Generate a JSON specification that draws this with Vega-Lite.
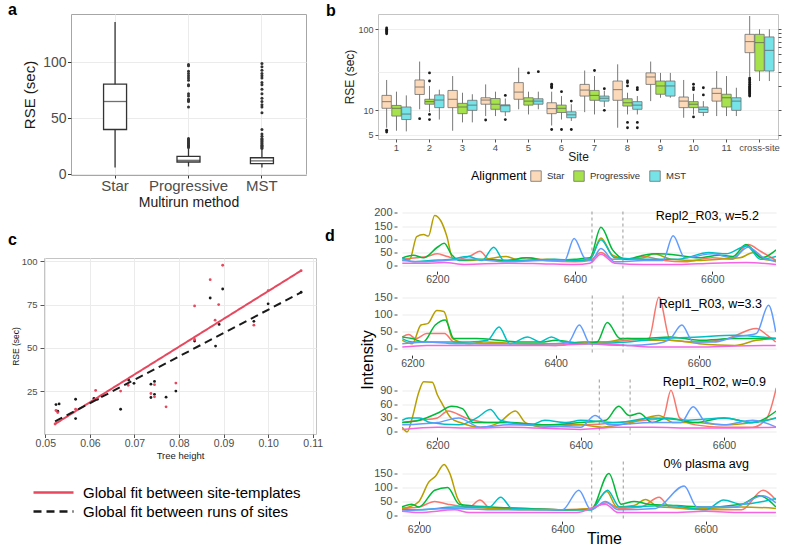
{
"$schema": "https://vega.github.io/schema/vega-lite/v6.json",
"background": "white",
"padding": {"left": 0, "top": 1, "right": 0, "bottom": 0},
"config": {
  "font": "Liberation Sans",
  "axis": {"domain": false, "labelColor": "#4D4D4D", "tickColor": "#333333", "titleColor": "#1A1A1A", "titleFontWeight": "normal", "gridColor": "#EBEBEB"},
  "title": {"fontSize": 16, "fontWeight": "bold", "color": "#000000", "anchor": "start", "frame": "group"}
},
"datasets": {
  "boxA": [
    {"m":"Star","lo":6,"q1":40,"med":65,"q3":80.5,"hi":136},
    {"m":"Progressive","lo":7,"q1":11,"med":12.5,"q3":16,"hi":23},
    {"m":"MST","lo":6,"q1":9.5,"med":12,"q3":14.8,"hi":22}
  ],
  "outA": [
    {"m":"Progressive","v":24},{"m":"Progressive","v":25},{"m":"Progressive","v":26},{"m":"Progressive","v":27},{"m":"Progressive","v":28},{"m":"Progressive","v":29},{"m":"Progressive","v":30},{"m":"Progressive","v":31},{"m":"Progressive","v":32},{"m":"Progressive","v":60},{"m":"Progressive","v":65},{"m":"Progressive","v":66},{"m":"Progressive","v":67},{"m":"Progressive","v":70},{"m":"Progressive","v":72},{"m":"Progressive","v":79},{"m":"Progressive","v":80},{"m":"Progressive","v":84},{"m":"Progressive","v":86},{"m":"Progressive","v":88},{"m":"Progressive","v":90},{"m":"Progressive","v":92},{"m":"Progressive","v":97},{"m":"Progressive","v":98},
    {"m":"MST","v":23},{"m":"MST","v":24},{"m":"MST","v":25},{"m":"MST","v":26},{"m":"MST","v":27},{"m":"MST","v":28},{"m":"MST","v":29},{"m":"MST","v":30},{"m":"MST","v":31},{"m":"MST","v":32},{"m":"MST","v":34},{"m":"MST","v":36},{"m":"MST","v":40},{"m":"MST","v":55},{"m":"MST","v":60},{"m":"MST","v":62},{"m":"MST","v":65},{"m":"MST","v":68},{"m":"MST","v":72},{"m":"MST","v":76},{"m":"MST","v":80},{"m":"MST","v":82},{"m":"MST","v":86},{"m":"MST","v":88},{"m":"MST","v":90},{"m":"MST","v":93},{"m":"MST","v":96},{"m":"MST","v":99}
  ],
  "boxB": [
    {"s":"1","a":"Star","lo":6.1,"q1":10.6,"med":12.8,"q3":15.3,"hi":23.7},
    {"s":"1","a":"Progressive","lo":5.6,"q1":8.5,"med":10.6,"q3":11.5,"hi":17},
    {"s":"1","a":"MST","lo":5.5,"q1":7.7,"med":9,"q3":11,"hi":15.3},
    {"s":"2","a":"Star","lo":10.3,"q1":15.7,"med":19.4,"q3":23.7,"hi":40},
    {"s":"2","a":"Progressive","lo":9.5,"q1":11.9,"med":12.8,"q3":13.7,"hi":20},
    {"s":"2","a":"MST","lo":7.7,"q1":10.8,"med":13.4,"q3":15.5,"hi":18},
    {"s":"3","a":"Star","lo":5.6,"q1":10.8,"med":13.7,"q3":17.6,"hi":26.5},
    {"s":"3","a":"Progressive","lo":7.1,"q1":9.1,"med":11,"q3":12.2,"hi":16.5},
    {"s":"3","a":"MST","lo":7.1,"q1":10,"med":11.6,"q3":13.3,"hi":15.8},
    {"s":"4","a":"Star","lo":8.5,"q1":11.9,"med":13.4,"q3":14.3,"hi":20.9},
    {"s":"4","a":"Progressive","lo":8.5,"q1":10.3,"med":11.9,"q3":14,"hi":17},
    {"s":"4","a":"MST","lo":8.5,"q1":9.6,"med":11.4,"q3":11.7,"hi":14},
    {"s":"5","a":"Star","lo":10.3,"q1":13.7,"med":16.8,"q3":22,"hi":33.6},
    {"s":"5","a":"Progressive","lo":8.9,"q1":11.6,"med":13,"q3":14.3,"hi":17},
    {"s":"5","a":"MST","lo":10.3,"q1":11.9,"med":13,"q3":13.9,"hi":17},
    {"s":"6","a":"Star","lo":6.5,"q1":9.1,"med":10.5,"q3":12.4,"hi":17},
    {"s":"6","a":"Progressive","lo":7.7,"q1":9.4,"med":10.6,"q3":11.6,"hi":15},
    {"s":"6","a":"MST","lo":7.4,"q1":8.1,"med":8.8,"q3":9.6,"hi":11.9},
    {"s":"7","a":"Star","lo":9.5,"q1":15,"med":17.8,"q3":20.9,"hi":31},
    {"s":"7","a":"Progressive","lo":8.9,"q1":13.3,"med":15.3,"q3":17.6,"hi":26.5},
    {"s":"7","a":"MST","lo":11,"q1":13,"med":14.1,"q3":15,"hi":17.5},
    {"s":"8","a":"Star","lo":6.1,"q1":13.3,"med":18,"q3":23,"hi":37},
    {"s":"8","a":"Progressive","lo":8.9,"q1":11.3,"med":12.4,"q3":13.9,"hi":16.5},
    {"s":"8","a":"MST","lo":8.9,"q1":10.3,"med":11.6,"q3":12.8,"hi":15},
    {"s":"9","a":"Star","lo":13,"q1":20.9,"med":25.8,"q3":29,"hi":40},
    {"s":"9","a":"Progressive","lo":14.3,"q1":15.8,"med":20,"q3":23,"hi":29},
    {"s":"9","a":"MST","lo":14.3,"q1":15,"med":20,"q3":23,"hi":29},
    {"s":"10","a":"Star","lo":8.1,"q1":10.8,"med":13,"q3":14.6,"hi":23.7},
    {"s":"10","a":"Progressive","lo":8.9,"q1":10.8,"med":11.9,"q3":12.8,"hi":16},
    {"s":"10","a":"MST","lo":8.5,"q1":9.4,"med":10.3,"q3":11,"hi":13},
    {"s":"11","a":"Star","lo":8.5,"q1":13,"med":16.2,"q3":18.7,"hi":30.5},
    {"s":"11","a":"Progressive","lo":8.5,"q1":11,"med":14.3,"q3":15.8,"hi":26.5},
    {"s":"11","a":"MST","lo":8.5,"q1":10,"med":13,"q3":14.3,"hi":19},
    {"s":"cross-site","a":"Star","lo":26,"q1":51.5,"med":70.5,"q3":86.7,"hi":146},
    {"s":"cross-site","a":"Progressive","lo":23,"q1":30.6,"med":68.5,"q3":86.7,"hi":100},
    {"s":"cross-site","a":"MST","lo":23,"q1":30.6,"med":55,"q3":80.5,"hi":100}
  ],
  "outB": [
    {"s":"1","a":"Star","v":5.4},{"s":"1","a":"Star","v":5.7},{"s":"1","a":"Star","v":88},{"s":"1","a":"Star","v":91},{"s":"1","a":"Star","v":94},{"s":"1","a":"Star","v":97},{"s":"1","a":"Star","v":100},{"s":"1","a":"Star","v":104},
    {"s":"2","a":"Star","v":7.9},{"s":"2","a":"Progressive","v":29},{"s":"2","a":"Progressive","v":23},{"s":"2","a":"Progressive","v":8.9},{"s":"2","a":"Progressive","v":7.7},
    {"s":"4","a":"Star","v":7.6},{"s":"4","a":"MST","v":15.3},{"s":"4","a":"MST","v":7.7},
    {"s":"5","a":"Progressive","v":29},{"s":"5","a":"MST","v":30},
    {"s":"6","a":"Star","v":19},{"s":"6","a":"Star","v":19.5},{"s":"6","a":"Star","v":20},{"s":"6","a":"Star","v":21},{"s":"6","a":"Star","v":5.8},{"s":"6","a":"Progressive","v":17},{"s":"6","a":"Progressive","v":5.8},{"s":"6","a":"MST","v":13},{"s":"6","a":"MST","v":5.8},
    {"s":"7","a":"Progressive","v":31},{"s":"7","a":"MST","v":18.5},{"s":"7","a":"MST","v":10},
    {"s":"8","a":"Progressive","v":20},{"s":"8","a":"Progressive","v":22},{"s":"8","a":"Progressive","v":23},{"s":"8","a":"Progressive","v":7.1},{"s":"8","a":"Progressive","v":6.1},{"s":"8","a":"MST","v":18},{"s":"8","a":"MST","v":19},{"s":"8","a":"MST","v":7.1},{"s":"8","a":"MST","v":6.1},
    {"s":"10","a":"Progressive","v":18},{"s":"10","a":"Progressive","v":19},{"s":"10","a":"Progressive","v":21},{"s":"10","a":"Progressive","v":8.3},{"s":"10","a":"MST","v":15.5},{"s":"10","a":"MST","v":19},
    {"s":"cross-site","a":"Star","v":15},{"s":"cross-site","a":"Star","v":15.5},{"s":"cross-site","a":"Star","v":16},{"s":"cross-site","a":"Star","v":16.5},{"s":"cross-site","a":"Star","v":17},{"s":"cross-site","a":"Star","v":17.5},{"s":"cross-site","a":"Star","v":18},{"s":"cross-site","a":"Star","v":18.5},{"s":"cross-site","a":"Star","v":19},{"s":"cross-site","a":"Star","v":19.5},{"s":"cross-site","a":"Star","v":20},{"s":"cross-site","a":"Star","v":21},{"s":"cross-site","a":"Star","v":22},{"s":"cross-site","a":"Star","v":23},{"s":"cross-site","a":"Star","v":24},{"s":"cross-site","a":"Star","v":25}
  ],
  "ptsC": [
    {"f":"runs","h":0.0524,"v":17.2},{"f":"runs","h":0.0531,"v":17.6},{"f":"runs","h":0.0528,"v":13.4},{"f":"runs","h":0.0568,"v":20.3},{"f":"runs","h":0.0568,"v":9.1},{"f":"runs","h":0.0609,"v":20.7},{"f":"runs","h":0.0617,"v":20.3},{"f":"runs","h":0.0669,"v":14.5},{"f":"runs","h":0.0687,"v":31.4},{"f":"runs","h":0.0699,"v":29.5},{"f":"runs","h":0.0737,"v":29},{"f":"runs","h":0.0737,"v":21.3},{"f":"runs","h":0.0745,"v":30.6},{"f":"runs","h":0.0745,"v":23.1},{"f":"runs","h":0.0771,"v":21.5},{"f":"runs","h":0.0793,"v":25},{"f":"runs","h":0.0835,"v":53.9},{"f":"runs","h":0.087,"v":78.8},{"f":"runs","h":0.0882,"v":51},{"f":"runs","h":0.089,"v":63.5},{"f":"runs","h":0.0898,"v":84},{"f":"runs","h":0.0968,"v":65.3},{"f":"runs","h":0.1,"v":75.4},{"f":"runs","h":0.1074,"v":82.1},
    {"f":"templates","h":0.0524,"v":13.8},{"f":"templates","h":0.0528,"v":12.6},{"f":"templates","h":0.0522,"v":6},{"f":"templates","h":0.0568,"v":14.5},{"f":"templates","h":0.0613,"v":25.4},{"f":"templates","h":0.0669,"v":25},{"f":"templates","h":0.0686,"v":28.3},{"f":"templates","h":0.0737,"v":23.6},{"f":"templates","h":0.0745,"v":28.7},{"f":"templates","h":0.0745,"v":21.7},{"f":"templates","h":0.0771,"v":15.9},{"f":"templates","h":0.0793,"v":29.6},{"f":"templates","h":0.0835,"v":74.2},{"f":"templates","h":0.0835,"v":54.8},{"f":"templates","h":0.087,"v":89.4},{"f":"templates","h":0.0881,"v":66},{"f":"templates","h":0.0889,"v":75},{"f":"templates","h":0.0898,"v":97.7},{"f":"templates","h":0.0968,"v":63.1},{"f":"templates","h":0.1,"v":83},{"f":"templates","h":0.1074,"v":94.6}
  ],
  "fitC": [
    {"f":"templates","h":0.0522,"v":6},{"f":"templates","h":0.1074,"v":94.6},
    {"f":"runs","h":0.0522,"v":7.5},{"f":"runs","h":0.1074,"v":82}
  ],
  "r1": [{"t":6425},{"t":6470}],
  "r2": [{"t":6451},{"t":6494}],
  "r3": [{"t":6426},{"t":6469}],
  "r4": [{"t":6441},{"t":6485}],
  "d1": [
    {"s":"A","t":6149,"v":25},{"s":"A","t":6170,"v":30},{"s":"A","t":6185,"v":35},{"s":"A","t":6200,"v":45},{"s":"A","t":6215,"v":35},{"s":"A","t":6230,"v":25},{"s":"A","t":6250,"v":40},{"s":"A","t":6262,"v":55},{"s":"A","t":6275,"v":25},{"s":"A","t":6300,"v":20},{"s":"A","t":6330,"v":30},{"s":"A","t":6360,"v":20},{"s":"A","t":6400,"v":15},{"s":"A","t":6422,"v":20},{"s":"A","t":6438,"v":50},{"s":"A","t":6455,"v":25},{"s":"A","t":6480,"v":25},{"s":"A","t":6500,"v":35},{"s":"A","t":6530,"v":20},{"s":"A","t":6560,"v":15},{"s":"A","t":6600,"v":30},{"s":"A","t":6630,"v":25},{"s":"A","t":6652,"v":80},{"s":"A","t":6670,"v":55},{"s":"A","t":6693,"v":20},
    {"s":"B","t":6149,"v":20},{"s":"B","t":6160,"v":25},{"s":"B","t":6170,"v":110},{"s":"B","t":6180,"v":118},{"s":"B","t":6187,"v":112},{"s":"B","t":6196,"v":190},{"s":"B","t":6205,"v":170},{"s":"B","t":6214,"v":110},{"s":"B","t":6222,"v":30},{"s":"B","t":6240,"v":20},{"s":"B","t":6270,"v":25},{"s":"B","t":6300,"v":35},{"s":"B","t":6320,"v":20},{"s":"B","t":6360,"v":25},{"s":"B","t":6400,"v":20},{"s":"B","t":6422,"v":25},{"s":"B","t":6438,"v":105},{"s":"B","t":6455,"v":40},{"s":"B","t":6480,"v":25},{"s":"B","t":6500,"v":30},{"s":"B","t":6515,"v":45},{"s":"B","t":6540,"v":25},{"s":"B","t":6580,"v":20},{"s":"B","t":6610,"v":25},{"s":"B","t":6640,"v":30},{"s":"B","t":6660,"v":50},{"s":"B","t":6675,"v":25},{"s":"B","t":6693,"v":20},
    {"s":"C","t":6149,"v":30},{"s":"C","t":6165,"v":40},{"s":"C","t":6180,"v":30},{"s":"C","t":6200,"v":70},{"s":"C","t":6210,"v":85},{"s":"C","t":6220,"v":45},{"s":"C","t":6232,"v":20},{"s":"C","t":6260,"v":25},{"s":"C","t":6300,"v":20},{"s":"C","t":6330,"v":30},{"s":"C","t":6360,"v":20},{"s":"C","t":6400,"v":25},{"s":"C","t":6422,"v":30},{"s":"C","t":6438,"v":145},{"s":"C","t":6455,"v":60},{"s":"C","t":6475,"v":25},{"s":"C","t":6500,"v":40},{"s":"C","t":6520,"v":45},{"s":"C","t":6550,"v":40},{"s":"C","t":6580,"v":30},{"s":"C","t":6610,"v":40},{"s":"C","t":6630,"v":35},{"s":"C","t":6649,"v":80},{"s":"C","t":6672,"v":30},{"s":"C","t":6693,"v":60},
    {"s":"D","t":6149,"v":30},{"s":"D","t":6165,"v":15},{"s":"D","t":6190,"v":20},{"s":"D","t":6220,"v":25},{"s":"D","t":6245,"v":35},{"s":"D","t":6265,"v":20},{"s":"D","t":6282,"v":70},{"s":"D","t":6297,"v":20},{"s":"D","t":6330,"v":20},{"s":"D","t":6370,"v":25},{"s":"D","t":6400,"v":20},{"s":"D","t":6422,"v":25},{"s":"D","t":6438,"v":98},{"s":"D","t":6458,"v":30},{"s":"D","t":6500,"v":25},{"s":"D","t":6550,"v":25},{"s":"D","t":6595,"v":50},{"s":"D","t":6620,"v":45},{"s":"D","t":6650,"v":75},{"s":"D","t":6670,"v":25},{"s":"D","t":6693,"v":35},
    {"s":"E","t":6149,"v":20},{"s":"E","t":6180,"v":15},{"s":"E","t":6210,"v":20},{"s":"E","t":6250,"v":25},{"s":"E","t":6300,"v":15},{"s":"E","t":6350,"v":20},{"s":"E","t":6385,"v":20},{"s":"E","t":6399,"v":103},{"s":"E","t":6414,"v":30},{"s":"E","t":6424,"v":20},{"s":"E","t":6438,"v":65},{"s":"E","t":6458,"v":15},{"s":"E","t":6500,"v":20},{"s":"E","t":6528,"v":20},{"s":"E","t":6543,"v":113},{"s":"E","t":6560,"v":30},{"s":"E","t":6600,"v":45},{"s":"E","t":6630,"v":30},{"s":"E","t":6652,"v":70},{"s":"E","t":6675,"v":30},{"s":"E","t":6693,"v":15},
    {"s":"F","t":6149,"v":10},{"s":"F","t":6180,"v":10},{"s":"F","t":6210,"v":12},{"s":"F","t":6240,"v":5},{"s":"F","t":6300,"v":10},{"s":"F","t":6350,"v":8},{"s":"F","t":6400,"v":5},{"s":"F","t":6422,"v":10},{"s":"F","t":6438,"v":44},{"s":"F","t":6458,"v":10},{"s":"F","t":6500,"v":5},{"s":"F","t":6550,"v":5},{"s":"F","t":6600,"v":10},{"s":"F","t":6650,"v":12},{"s":"F","t":6693,"v":5}
  ],
  "d2": [
    {"s":"A","t":6186,"v":35},{"s":"A","t":6195,"v":42},{"s":"A","t":6205,"v":30},{"s":"A","t":6220,"v":45},{"s":"A","t":6245,"v":45},{"s":"A","t":6258,"v":20},{"s":"A","t":6300,"v":15},{"s":"A","t":6350,"v":15},{"s":"A","t":6400,"v":10},{"s":"A","t":6440,"v":20},{"s":"A","t":6470,"v":20},{"s":"A","t":6500,"v":25},{"s":"A","t":6530,"v":30},{"s":"A","t":6544,"v":152},{"s":"A","t":6560,"v":25},{"s":"A","t":6600,"v":20},{"s":"A","t":6640,"v":30},{"s":"A","t":6680,"v":60},{"s":"A","t":6695,"v":40},{"s":"A","t":6707,"v":20},
    {"s":"B","t":6186,"v":25},{"s":"B","t":6200,"v":15},{"s":"B","t":6212,"v":70},{"s":"B","t":6222,"v":75},{"s":"B","t":6234,"v":113},{"s":"B","t":6244,"v":110},{"s":"B","t":6256,"v":30},{"s":"B","t":6280,"v":15},{"s":"B","t":6300,"v":20},{"s":"B","t":6350,"v":15},{"s":"B","t":6400,"v":15},{"s":"B","t":6440,"v":20},{"s":"B","t":6470,"v":20},{"s":"B","t":6500,"v":30},{"s":"B","t":6530,"v":25},{"s":"B","t":6560,"v":25},{"s":"B","t":6600,"v":15},{"s":"B","t":6650,"v":10},{"s":"B","t":6680,"v":25},{"s":"B","t":6707,"v":30},
    {"s":"C","t":6186,"v":35},{"s":"C","t":6200,"v":30},{"s":"C","t":6215,"v":20},{"s":"C","t":6232,"v":70},{"s":"C","t":6246,"v":85},{"s":"C","t":6258,"v":30},{"s":"C","t":6290,"v":30},{"s":"C","t":6320,"v":25},{"s":"C","t":6350,"v":20},{"s":"C","t":6380,"v":20},{"s":"C","t":6400,"v":25},{"s":"C","t":6440,"v":15},{"s":"C","t":6458,"v":20},{"s":"C","t":6472,"v":77},{"s":"C","t":6490,"v":30},{"s":"C","t":6520,"v":30},{"s":"C","t":6560,"v":35},{"s":"C","t":6600,"v":25},{"s":"C","t":6650,"v":30},{"s":"C","t":6707,"v":30},
    {"s":"D","t":6186,"v":30},{"s":"D","t":6200,"v":20},{"s":"D","t":6250,"v":20},{"s":"D","t":6280,"v":20},{"s":"D","t":6305,"v":25},{"s":"D","t":6321,"v":64},{"s":"D","t":6336,"v":15},{"s":"D","t":6361,"v":35},{"s":"D","t":6378,"v":20},{"s":"D","t":6394,"v":35},{"s":"D","t":6410,"v":20},{"s":"D","t":6450,"v":15},{"s":"D","t":6500,"v":20},{"s":"D","t":6550,"v":30},{"s":"D","t":6600,"v":35},{"s":"D","t":6650,"v":40},{"s":"D","t":6707,"v":30},
    {"s":"E","t":6186,"v":15},{"s":"E","t":6220,"v":20},{"s":"E","t":6260,"v":15},{"s":"E","t":6300,"v":15},{"s":"E","t":6400,"v":15},{"s":"E","t":6418,"v":20},{"s":"E","t":6433,"v":70},{"s":"E","t":6448,"v":15},{"s":"E","t":6500,"v":10},{"s":"E","t":6540,"v":15},{"s":"E","t":6560,"v":30},{"s":"E","t":6576,"v":70},{"s":"E","t":6592,"v":20},{"s":"E","t":6620,"v":20},{"s":"E","t":6650,"v":35},{"s":"E","t":6680,"v":45},{"s":"E","t":6697,"v":128},{"s":"E","t":6707,"v":50},
    {"s":"F","t":6186,"v":5},{"s":"F","t":6220,"v":10},{"s":"F","t":6260,"v":10},{"s":"F","t":6300,"v":10},{"s":"F","t":6350,"v":10},{"s":"F","t":6400,"v":10},{"s":"F","t":6450,"v":15},{"s":"F","t":6500,"v":10},{"s":"F","t":6540,"v":5},{"s":"F","t":6600,"v":5},{"s":"F","t":6650,"v":8},{"s":"F","t":6707,"v":10}
  ],
  "d3": [
    {"s":"A","t":6151,"v":20},{"s":"A","t":6175,"v":25},{"s":"A","t":6200,"v":30},{"s":"A","t":6215,"v":45},{"s":"A","t":6240,"v":30},{"s":"A","t":6270,"v":20},{"s":"A","t":6300,"v":20},{"s":"A","t":6350,"v":15},{"s":"A","t":6400,"v":15},{"s":"A","t":6450,"v":20},{"s":"A","t":6490,"v":25},{"s":"A","t":6515,"v":30},{"s":"A","t":6526,"v":90},{"s":"A","t":6538,"v":30},{"s":"A","t":6560,"v":15},{"s":"A","t":6600,"v":10},{"s":"A","t":6640,"v":10},{"s":"A","t":6660,"v":30},{"s":"A","t":6673,"v":95},
    {"s":"B","t":6151,"v":10},{"s":"B","t":6158,"v":0},{"s":"B","t":6165,"v":30},{"s":"B","t":6174,"v":85},{"s":"B","t":6181,"v":108},{"s":"B","t":6193,"v":107},{"s":"B","t":6200,"v":80},{"s":"B","t":6207,"v":60},{"s":"B","t":6219,"v":30},{"s":"B","t":6232,"v":20},{"s":"B","t":6260,"v":10},{"s":"B","t":6286,"v":20},{"s":"B","t":6309,"v":45},{"s":"B","t":6323,"v":20},{"s":"B","t":6350,"v":10},{"s":"B","t":6400,"v":15},{"s":"B","t":6430,"v":10},{"s":"B","t":6470,"v":20},{"s":"B","t":6509,"v":35},{"s":"B","t":6530,"v":20},{"s":"B","t":6560,"v":20},{"s":"B","t":6600,"v":15},{"s":"B","t":6640,"v":20},{"s":"B","t":6673,"v":30},
    {"s":"C","t":6151,"v":20},{"s":"C","t":6175,"v":25},{"s":"C","t":6200,"v":40},{"s":"C","t":6220,"v":55},{"s":"C","t":6235,"v":50},{"s":"C","t":6250,"v":20},{"s":"C","t":6300,"v":20},{"s":"C","t":6350,"v":15},{"s":"C","t":6400,"v":20},{"s":"C","t":6435,"v":25},{"s":"C","t":6453,"v":55},{"s":"C","t":6468,"v":35},{"s":"C","t":6482,"v":40},{"s":"C","t":6500,"v":20},{"s":"C","t":6520,"v":30},{"s":"C","t":6560,"v":20},{"s":"C","t":6600,"v":30},{"s":"C","t":6640,"v":20},{"s":"C","t":6673,"v":45},
    {"s":"D","t":6151,"v":25},{"s":"D","t":6160,"v":30},{"s":"D","t":6175,"v":30},{"s":"D","t":6190,"v":20},{"s":"D","t":6230,"v":15},{"s":"D","t":6255,"v":30},{"s":"D","t":6274,"v":48},{"s":"D","t":6288,"v":25},{"s":"D","t":6330,"v":15},{"s":"D","t":6350,"v":25},{"s":"D","t":6380,"v":20},{"s":"D","t":6400,"v":25},{"s":"D","t":6450,"v":20},{"s":"D","t":6500,"v":30},{"s":"D","t":6550,"v":25},{"s":"D","t":6600,"v":30},{"s":"D","t":6640,"v":20},{"s":"D","t":6673,"v":30},
    {"s":"E","t":6151,"v":15},{"s":"E","t":6200,"v":20},{"s":"E","t":6230,"v":30},{"s":"E","t":6260,"v":10},{"s":"E","t":6300,"v":15},{"s":"E","t":6400,"v":10},{"s":"E","t":6420,"v":35},{"s":"E","t":6440,"v":15},{"s":"E","t":6500,"v":20},{"s":"E","t":6540,"v":20},{"s":"E","t":6557,"v":54},{"s":"E","t":6575,"v":20},{"s":"E","t":6600,"v":15},{"s":"E","t":6640,"v":25},{"s":"E","t":6673,"v":10},
    {"s":"F","t":6151,"v":5},{"s":"F","t":6200,"v":10},{"s":"F","t":6250,"v":8},{"s":"F","t":6300,"v":10},{"s":"F","t":6400,"v":5},{"s":"F","t":6450,"v":10},{"s":"F","t":6500,"v":10},{"s":"F","t":6560,"v":8},{"s":"F","t":6600,"v":8},{"s":"F","t":6673,"v":10}
  ],
  "d4": [
    {"s":"A","t":6176,"v":25},{"s":"A","t":6200,"v":30},{"s":"A","t":6222,"v":50},{"s":"A","t":6240,"v":40},{"s":"A","t":6270,"v":30},{"s":"A","t":6285,"v":55},{"s":"A","t":6300,"v":25},{"s":"A","t":6350,"v":25},{"s":"A","t":6400,"v":20},{"s":"A","t":6440,"v":25},{"s":"A","t":6462,"v":45},{"s":"A","t":6480,"v":25},{"s":"A","t":6510,"v":30},{"s":"A","t":6535,"v":65},{"s":"A","t":6550,"v":30},{"s":"A","t":6600,"v":20},{"s":"A","t":6650,"v":20},{"s":"A","t":6680,"v":90},{"s":"A","t":6698,"v":55},
    {"s":"B","t":6176,"v":25},{"s":"B","t":6186,"v":30},{"s":"B","t":6200,"v":50},{"s":"B","t":6214,"v":120},{"s":"B","t":6223,"v":140},{"s":"B","t":6235,"v":182},{"s":"B","t":6243,"v":150},{"s":"B","t":6254,"v":60},{"s":"B","t":6265,"v":30},{"s":"B","t":6300,"v":25},{"s":"B","t":6350,"v":20},{"s":"B","t":6400,"v":20},{"s":"B","t":6440,"v":25},{"s":"B","t":6462,"v":85},{"s":"B","t":6476,"v":30},{"s":"B","t":6500,"v":35},{"s":"B","t":6516,"v":57},{"s":"B","t":6535,"v":30},{"s":"B","t":6600,"v":25},{"s":"B","t":6650,"v":30},{"s":"B","t":6698,"v":25},
    {"s":"C","t":6176,"v":30},{"s":"C","t":6190,"v":40},{"s":"C","t":6200,"v":30},{"s":"C","t":6222,"v":90},{"s":"C","t":6240,"v":100},{"s":"C","t":6256,"v":40},{"s":"C","t":6300,"v":30},{"s":"C","t":6350,"v":25},{"s":"C","t":6400,"v":20},{"s":"C","t":6440,"v":20},{"s":"C","t":6465,"v":150},{"s":"C","t":6482,"v":40},{"s":"C","t":6500,"v":50},{"s":"C","t":6520,"v":40},{"s":"C","t":6560,"v":35},{"s":"C","t":6600,"v":30},{"s":"C","t":6650,"v":40},{"s":"C","t":6675,"v":70},{"s":"C","t":6698,"v":30},
    {"s":"D","t":6176,"v":20},{"s":"D","t":6200,"v":20},{"s":"D","t":6250,"v":30},{"s":"D","t":6298,"v":30},{"s":"D","t":6314,"v":65},{"s":"D","t":6330,"v":25},{"s":"D","t":6400,"v":20},{"s":"D","t":6440,"v":20},{"s":"D","t":6463,"v":90},{"s":"D","t":6480,"v":30},{"s":"D","t":6550,"v":35},{"s":"D","t":6600,"v":20},{"s":"D","t":6625,"v":55},{"s":"D","t":6650,"v":40},{"s":"D","t":6698,"v":60},
    {"s":"E","t":6176,"v":15},{"s":"E","t":6200,"v":20},{"s":"E","t":6250,"v":25},{"s":"E","t":6300,"v":20},{"s":"E","t":6400,"v":20},{"s":"E","t":6423,"v":90},{"s":"E","t":6440,"v":20},{"s":"E","t":6460,"v":50},{"s":"E","t":6478,"v":20},{"s":"E","t":6530,"v":25},{"s":"E","t":6570,"v":105},{"s":"E","t":6588,"v":30},{"s":"E","t":6640,"v":30},{"s":"E","t":6680,"v":70},{"s":"E","t":6698,"v":45},
    {"s":"F","t":6176,"v":15},{"s":"F","t":6200,"v":10},{"s":"F","t":6250,"v":20},{"s":"F","t":6270,"v":10},{"s":"F","t":6350,"v":10},{"s":"F","t":6420,"v":10},{"s":"F","t":6460,"v":40},{"s":"F","t":6478,"v":10},{"s":"F","t":6550,"v":10},{"s":"F","t":6600,"v":15},{"s":"F","t":6650,"v":10},{"s":"F","t":6698,"v":10}
  ]
},
"spacing": 0,
"resolve": {"scale": {"color": "independent", "fill": "independent", "strokeDash": "independent"}, "legend": {"color": "independent", "fill": "independent", "strokeDash": "independent"}},
"hconcat": [
  {
    "columns": 2, "align": "none", "bounds": "full",
    "spacing": {"column": 6, "row": 21},
    "resolve": {"scale": {"color": "independent", "fill": "independent", "strokeDash": "independent"}, "legend": {"color": "independent", "fill": "independent", "strokeDash": "independent"}},
    "concat": [
      {"width": 1, "height": 1, "data": {"values": []}, "mark": "point", "view": {"stroke": null}},
      {
        "width": 235, "height": 161,
        "title": {"text": "a", "dx": -63, "offset": -12.2, "baseline": "middle"},
        "view": {"stroke": "#A6A6A6"},
        "layer": [
          {"data": {"name": "boxA"}, "mark": {"type": "rule", "color": "#333333", "strokeWidth": 1.3},
           "encoding": {
             "x": {"field": "m", "type": "nominal", "sort": null, "scale": {"domain": ["Star","Progressive","MST"], "paddingInner": 0.2, "paddingOuter": 0.2},
                   "axis": {"title": "Multirun method", "titleFontSize": 14, "labelFontSize": 15, "labelAngle": 0, "tickSize": 3, "labelPadding": 0, "titlePadding": 2, "grid": true, "bandPosition": 0.5}},
             "y": {"field": "lo", "type": "quantitative", "scale": {"domain": [-0.6, 143.1], "nice": false, "zero": false},
                   "axis": {"title": "RSE (sec)", "titleFontSize": 15, "labelFontSize": 14, "values": [0,25,50,75,100,125], "labelExpr": "datum.value % 50 == 0 ? datum.label : ''", "tickOpacity": {"condition": {"test": "datum.value % 50 != 0", "value": 0}, "value": 1}, "gridColor": {"condition": {"test": "datum.value % 50 != 0", "value": "#F4F4F4"}, "value": "#EBEBEB"}, "tickSize": 3.5, "labelPadding": 1.5, "titlePadding": 5}},
             "y2": {"field": "hi"}}},
          {"data": {"name": "boxA"}, "mark": {"type": "bar", "fill": "white", "stroke": "#333333", "strokeWidth": 1.3, "size": 23},
           "encoding": {"x": {"field": "m", "type": "nominal", "sort": null}, "y": {"field": "q1", "type": "quantitative"}, "y2": {"field": "q3"}}},
          {"data": {"name": "boxA"}, "mark": {"type": "tick", "color": "#333333", "thickness": 1.3, "size": 23},
           "encoding": {"x": {"field": "m", "type": "nominal", "sort": null}, "y": {"field": "med", "type": "quantitative"}}},
          {"data": {"name": "outA"}, "mark": {"type": "circle", "color": "#333333", "size": 9, "opacity": 1},
           "encoding": {"x": {"field": "m", "type": "nominal", "sort": null}, "y": {"field": "v", "type": "quantitative"}}}
        ]
      },
      {"width": 1, "height": 1, "data": {"values": []}, "mark": "point", "view": {"stroke": null}},
      {
        "width": 272, "height": 176,
        "title": {"text": "c", "dx": -36, "offset": 0.4, "baseline": "middle"},
        "view": {"stroke": "#C4C4C4"},
        "layer": [
          {"data": {"name": "ptsC"}, "mark": {"type": "circle", "size": 8, "opacity": 1},
           "encoding": {
             "x": {"field": "h", "type": "quantitative", "scale": {"domain": [0.04971, 0.11074], "nice": false, "zero": false},
                   "axis": {"title": "Tree height", "titleFontSize": 9.5, "labelFontSize": 10.5, "values": [0.05,0.06,0.07,0.08,0.09,0.1,0.11], "format": ".2f", "tickSize": 3.5, "labelPadding": 1, "titlePadding": 1, "tickColor": "#555555"}},
             "y": {"field": "v", "type": "quantitative", "scale": {"domain": [0.2, 101.9], "nice": false, "zero": false},
                   "axis": {"title": "RSE (sec)", "titleFontSize": 8.5, "labelFontSize": 9.5, "values": [25,50,75,100], "tickSize": 4, "labelPadding": 3, "titlePadding": 1, "tickColor": "#555555"}},
             "color": {"field": "f", "type": "nominal", "scale": {"domain": ["templates", "runs"], "range": ["#E8485E", "#1A1A1A"]}}}},
          {"data": {"name": "fitC"}, "mark": {"type": "line", "strokeWidth": 2},
           "encoding": {
             "x": {"field": "h", "type": "quantitative"},
             "y": {"field": "v", "type": "quantitative"},
             "color": {"field": "f", "type": "nominal",
                       "legend": {"orient": "none", "legendX": -12, "legendY": 225, "title": null, "symbolType": "stroke", "symbolSize": 1600, "symbolStrokeWidth": 2.5, "clipHeight": 19, "rowPadding": 0, "labelOffset": 8, "labelFontSize": 15, "labelLimit": 400, "labelColor": "#000000", "labelExpr": "datum.value == 'templates' ? 'Global fit between site-templates' : 'Global fit between runs of sites'"}},
             "strokeDash": {"field": "f", "type": "nominal", "scale": {"domain": ["templates", "runs"], "range": [[1, 0], [8, 5]]},
                       "legend": {"orient": "none", "legendX": -12, "legendY": 225, "title": null, "symbolType": "stroke", "symbolSize": 1600, "symbolStrokeWidth": 2.5, "clipHeight": 19, "rowPadding": 0, "labelOffset": 8, "labelFontSize": 15, "labelLimit": 400, "labelColor": "#000000", "labelExpr": "datum.value == 'templates' ? 'Global fit between site-templates' : 'Global fit between runs of sites'"}}}}
        ]
      }
    ]
  },
  {
    "columns": 2, "align": "none", "bounds": "full",
    "spacing": {"column": 0, "row": 22.5},
    "resolve": {"scale": {"color": "independent", "fill": "independent", "strokeDash": "independent"}, "legend": {"color": "independent", "fill": "independent", "strokeDash": "independent"}},
    "concat": [
      {"width": 1, "height": 1, "data": {"values": []}, "mark": "point", "view": {"stroke": null}},
      {
        "width": 400, "height": 125,
        "title": {"text": "b", "dx": -52, "offset": -12.5, "baseline": "middle"},
        "view": {"stroke": "#C4C4C4"},
        "layer": [
          {"data": {"name": "boxB"}, "mark": {"type": "rule", "color": "#7A7A7A", "strokeWidth": 1},
           "encoding": {
             "x": {"field": "s", "type": "nominal", "sort": null, "scale": {"domain": ["1","2","3","4","5","6","7","8","9","10","11","cross-site"], "paddingInner": 0.12, "paddingOuter": 0.12},
                   "axis": {"title": "Site", "titleFontSize": 12, "labelFontSize": 9.5, "labelAngle": 0, "tickSize": 3, "labelPadding": 0, "titlePadding": 0, "tickColor": "#555555"}},
             "xOffset": {"field": "a", "type": "nominal", "sort": null, "scale": {"domain": ["Star","Progressive","MST"], "paddingInner": 0.05, "paddingOuter": 0}},
             "y": {"field": "lo", "type": "quantitative", "scale": {"type": "log", "domain": [4.43, 154.5], "nice": false, "zero": false},
                   "axis": {"title": "RSE (sec)", "titleFontSize": 12, "labelFontSize": 9, "values": [5,10,30,100], "format": "d", "labelExpr": "datum.value == 30 ? '' : datum.label", "tickOpacity": {"condition": {"test": "datum.value == 30", "value": 0}, "value": 1}, "gridColor": "#EEEEEE", "tickSize": 3, "labelPadding": 2, "titlePadding": 1, "tickColor": "#555555"}},
             "y2": {"field": "hi"}}},
          {"data": {"name": "boxB"}, "mark": {"type": "bar", "stroke": "#6E6E6E", "strokeWidth": 0.8},
           "encoding": {
             "x": {"field": "s", "type": "nominal", "sort": null},
             "xOffset": {"field": "a", "type": "nominal", "sort": null},
             "y": {"field": "q1", "type": "quantitative", "axis": null}, "y2": {"field": "q3"},
             "fill": {"field": "a", "type": "nominal", "sort": null, "scale": {"domain": ["Star","Progressive","MST"], "range": ["#FCD9B8", "#A6E24B", "#76E3E8"]},
                      "legend": {"orient": "none", "legendX": 93, "legendY": 156, "direction": "horizontal", "titleOrient": "left", "title": "Alignment", "titleFontSize": 12.5, "titleFontWeight": "normal", "titleColor": "#000000", "titlePadding": 3, "labelFontSize": 9.5, "labelColor": "#333333", "symbolType": "square", "symbolSize": 110, "symbolStrokeColor": "#6E6E6E", "symbolStrokeWidth": 0.8, "labelOffset": 5, "columnPadding": 7}}}},
          {"data": {"name": "boxB"}, "mark": {"type": "tick", "color": "#555555", "thickness": 1, "size": 9},
           "encoding": {
             "x": {"field": "s", "type": "nominal", "sort": null},
             "xOffset": {"field": "a", "type": "nominal", "sort": null},
             "y": {"field": "med", "type": "quantitative", "axis": null}}},
          {"data": {"name": "outB"}, "mark": {"type": "circle", "color": "#1A1A1A", "size": 8, "opacity": 1},
           "encoding": {
             "x": {"field": "s", "type": "nominal", "sort": null},
             "xOffset": {"field": "a", "type": "nominal", "sort": null},
             "y": {"field": "v", "type": "quantitative", "axis": {"orient": "right", "labels": false, "title": null, "grid": false, "values": [5,10,20,30,40,50,60,70,80,90,100], "tickSize": 3, "tickColor": "#555555"}}}}
        ],
        "resolve": {"axis": {"y": "independent"}}
      },
      {"width": 1, "height": 1, "data": {"values": []}, "mark": "point", "view": {"stroke": null}},
      {
        "title": {"text": "d", "dx": -77, "offset": -45.5, "baseline": "middle"},
        "bounds": "flush",
        "spacing": 27,
        "vconcat": [
          {
            "width": 374, "height": 57,
            "title": {"text": "Repl2_R03, w=5.2", "anchor": "end", "dx": -17, "offset": -22, "baseline": "middle", "fontSize": 12.5, "fontWeight": "normal", "color": "#000000"},
            "view": {"stroke": null},
            "layer": [
              {"data": {"name": "d1"}, "mark": {"type": "line", "interpolate": "monotone", "strokeWidth": 1.5, "clip": true},
               "encoding": {
                 "x": {"field": "t", "type": "quantitative", "scale": {"domain": [6148.6, 6692.7], "nice": false, "zero": false},
                       "axis": {"title": null, "values": [6200,6400,6600], "format": "d", "labelFontSize": 10.5, "tickSize": 3, "offset": 2.6, "labelPadding": 0, "grid": false}},
                 "y": {"field": "v", "type": "quantitative", "scale": {"domain": [-10.2, 204.9], "nice": false, "zero": false},
                       "axis": {"title": null, "values": [0,50,100,150,200], "labelFontSize": 11, "tickSize": 3, "offset": 5, "labelPadding": 2, "tickColor": "#4D4D4D"}},
                 "color": {"field": "s", "type": "nominal", "scale": {"domain": ["A","B","C","D","E","F"], "range": ["#F8766D","#B79F00","#00BA38","#00BFC4","#619CFF","#F564E3"]}, "legend": null}}},
              {"data": {"name": "r1"}, "mark": {"type": "rule", "strokeDash": [3,3], "color": "#8C8C8C", "strokeWidth": 0.9},
               "encoding": {"x": {"field": "t", "type": "quantitative"}}}
            ]
          },
          {
            "width": 374, "height": 57,
            "title": {"text": "Repl1_R03, w=3.3", "anchor": "end", "dx": -14, "offset": -24.6, "baseline": "middle", "fontSize": 12.5, "fontWeight": "normal", "color": "#000000"},
            "view": {"stroke": null},
            "layer": [
              {"data": {"name": "d2"}, "mark": {"type": "line", "interpolate": "monotone", "strokeWidth": 1.5, "clip": true},
               "encoding": {
                 "x": {"field": "t", "type": "quantitative", "scale": {"domain": [6185.6, 6707.4], "nice": false, "zero": false},
                       "axis": {"title": null, "values": [6200,6400,6600], "format": "d", "labelFontSize": 10.5, "tickSize": 3, "offset": 2.6, "labelPadding": 0, "grid": false}},
                 "y": {"field": "v", "type": "quantitative", "scale": {"domain": [-10.9, 156.8], "nice": false, "zero": false},
                       "axis": {"title": "Intensity", "titleFontSize": 16, "titleColor": "#000000", "titleX": -30, "titleY": 64, "titleAngle": -90, "titleAlign": "center", "titleBaseline": "middle", "values": [0,50,100,150], "labelFontSize": 11, "tickSize": 3, "offset": 5, "labelPadding": 2, "tickColor": "#4D4D4D"}},
                 "color": {"field": "s", "type": "nominal", "scale": {"domain": ["A","B","C","D","E","F"], "range": ["#F8766D","#B79F00","#00BA38","#00BFC4","#619CFF","#F564E3"]}, "legend": null}}},
              {"data": {"name": "r2"}, "mark": {"type": "rule", "strokeDash": [3,3], "color": "#8C8C8C", "strokeWidth": 0.9},
               "encoding": {"x": {"field": "t", "type": "quantitative"}}}
            ]
          },
          {
            "width": 374, "height": 55,
            "title": {"text": "Repl1_R02, w=0.9", "anchor": "end", "dx": -10, "offset": -15.9, "baseline": "middle", "fontSize": 12.5, "fontWeight": "normal", "color": "#000000"},
            "view": {"stroke": null},
            "layer": [
              {"data": {"name": "d3"}, "mark": {"type": "line", "interpolate": "monotone", "strokeWidth": 1.5, "clip": true},
               "encoding": {
                 "x": {"field": "t", "type": "quantitative", "scale": {"domain": [6150.7, 6672.6], "nice": false, "zero": false},
                       "axis": {"title": null, "values": [6200,6400,6600], "format": "d", "labelFontSize": 10.5, "tickSize": 3, "offset": 2.6, "labelPadding": 0, "grid": false}},
                 "y": {"field": "v", "type": "quantitative", "scale": {"domain": [-5.8, 113], "nice": false, "zero": false},
                       "axis": {"title": null, "values": [0,30,60,90], "labelFontSize": 11, "tickSize": 3, "offset": 5, "labelPadding": 2, "tickColor": "#4D4D4D"}},
                 "color": {"field": "s", "type": "nominal", "scale": {"domain": ["A","B","C","D","E","F"], "range": ["#F8766D","#B79F00","#00BA38","#00BFC4","#619CFF","#F564E3"]}, "legend": null}}},
              {"data": {"name": "r3"}, "mark": {"type": "rule", "strokeDash": [3,3], "color": "#8C8C8C", "strokeWidth": 0.9},
               "encoding": {"x": {"field": "t", "type": "quantitative"}}}
            ]
          },
          {
            "width": 374, "height": 57,
            "title": {"text": "0% plasma avg", "anchor": "end", "dx": -27, "offset": -15.9, "baseline": "middle", "fontSize": 12.5, "fontWeight": "normal", "color": "#000000"},
            "view": {"stroke": null},
            "layer": [
              {"data": {"name": "d4"}, "mark": {"type": "line", "interpolate": "monotone", "strokeWidth": 1.5, "clip": true},
               "encoding": {
                 "x": {"field": "t", "type": "quantitative", "scale": {"domain": [6176.3, 6698.1], "nice": false, "zero": false},
                       "axis": {"title": "Time", "titleFontSize": 16, "titleColor": "#000000", "titleX": 202, "titleY": 17, "titleAlign": "center", "titleBaseline": "middle", "values": [6200,6400,6600], "format": "d", "labelFontSize": 10.5, "tickSize": 3, "offset": 2.6, "labelPadding": 0, "grid": false}},
                 "y": {"field": "v", "type": "quantitative", "scale": {"domain": [-11.1, 192.5], "nice": false, "zero": false},
                       "axis": {"title": null, "values": [0,50,100,150], "labelFontSize": 11, "tickSize": 3, "offset": 5, "labelPadding": 2, "tickColor": "#4D4D4D"}},
                 "color": {"field": "s", "type": "nominal", "scale": {"domain": ["A","B","C","D","E","F"], "range": ["#F8766D","#B79F00","#00BA38","#00BFC4","#619CFF","#F564E3"]}, "legend": null}}},
              {"data": {"name": "r4"}, "mark": {"type": "rule", "strokeDash": [3,3], "color": "#8C8C8C", "strokeWidth": 0.9},
               "encoding": {"x": {"field": "t", "type": "quantitative"}}}
            ]
          }
        ]
      }
    ]
  }
]
}
